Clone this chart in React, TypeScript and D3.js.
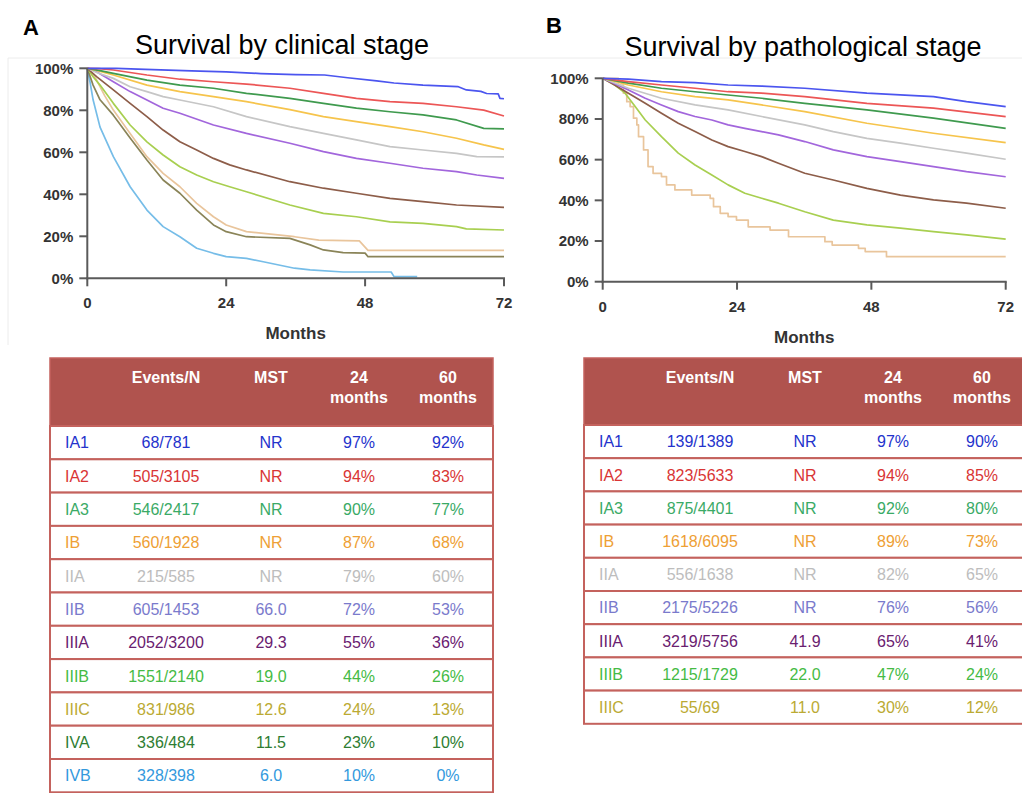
import React from "react";
import * as d3 from "d3";

type Pt = [number, number];

// ---------- tick labels ----------
const monthTicks = [0, 24, 48, 72];
const pctTicks = [0, 20, 40, 60, 80, 100];

// ---------- stage names & colours ----------
const stages = ["IA1", "IA2", "IA3", "IB", "IIA", "IIB", "IIIA", "IIIB", "IIIC", "IVA", "IVB"];
const curveColors = ["#4b55ef", "#ec5656", "#3f9a4e", "#f6c44c", "#c6c6c6", "#a266dc", "#8d5d49", "#a8cf50", "#e9c59c", "#8a8458", "#76bde8"];
const textColors = ["#2433cc", "#d93535", "#3aaa66", "#eea035", "#bdbdbd", "#7a7acc", "#6a2070", "#45bb45", "#bbaa33", "#2e7d32", "#3399dd"];

// ---------- Panel A: clinical stage survival (%) ----------
const clinIA1: Pt[] = [[0,100],[5,100],[10,99.5],[18,98.8],[24,98.3],[30,97.5],[36,97],[41,96.8],[45,95.5],[50,94],[53,93],[58,92],[64,91.3],[65.5,89.7],[68,89],[69,88],[71,87.8],[71.3,85.7],[72,85.5]];
const clinIA2: Pt[] = [[0,100],[2,99.8],[4.5,99.2],[10.3,96.8],[16,94.8],[21.8,93.6],[27.5,92.5],[35,90.5],[40.8,88.1],[46.5,85.7],[52.3,84.1],[58,83.3],[63.8,81.7],[68.5,80.1],[72,77.3]];
const clinIA3: Pt[] = [[0,100],[2,99],[4.5,97.6],[10.3,94.4],[16,92],[21.8,90.5],[27.5,88.1],[35,85.7],[40.8,83.3],[46.5,81],[52.3,79.3],[58,77.8],[63.8,75.4],[68.5,71.4],[72,71.2]];
const clinIB: Pt[] = [[0,100],[1.6,99],[4.5,96.8],[10.3,92],[16,88.9],[21.8,86.5],[27.5,84.1],[35,80.3],[40.8,77],[46.5,74.6],[52.3,72.2],[58,69.8],[63.8,66.7],[68.5,63.5],[72,61.4]];
const clinIIA: Pt[] = [[0,100],[1.6,98],[4.5,95.2],[7.4,91.2],[10.3,88.9],[13.1,86.5],[16,84.9],[21.8,81.7],[27.5,77],[35,72.2],[40.8,69],[46.5,65.9],[52.3,62.7],[58,61.1],[63.8,59.5],[67.3,57.9],[72,57.8]];
const clinIIB: Pt[] = [[0,100],[1.6,98.4],[4.5,93.6],[7.4,88.9],[10.3,84.9],[13.1,81],[16,78.6],[21.8,73],[27.5,69],[35,64.3],[40.8,60.3],[46.5,57.1],[52.3,54.8],[58,52.4],[63.8,50.8],[67.3,49.2],[72,47.6]];
const clinIIIA: Pt[] = [[0,100],[1.6,96],[4.5,89.7],[7.4,83.3],[10.3,77],[13.1,70.6],[16,65],[18.9,61.1],[21.8,57.1],[24.6,54],[27.5,51.6],[35,46],[40.8,42.9],[46.5,40.5],[52.3,38.1],[58,36.5],[63.8,34.9],[72,33.8]];
const clinIIIB: Pt[] = [[0,100],[1,96],[2.2,92],[4.5,83.3],[7.4,73],[10.3,65],[13.1,58.7],[16,53.1],[18.9,49.2],[21.8,46],[24.6,43.6],[27.5,41.2],[35,34.9],[40.8,30.9],[46.5,29.3],[52.3,26.9],[58,26.2],[63.8,24.6],[65.5,23.5],[72,23]];
const clinIIIC: Pt[] = [[0,100],[1.5,95],[3,87],[4.5,80.1],[7.4,69],[10.3,57.9],[13.1,50],[16,43.6],[18.9,35.7],[21.8,29.3],[24,25.4],[27.5,22.2],[35.8,19.8],[40,18.2],[47,17.8],[48.5,13.3],[72,13.3]];
const clinIVA: Pt[] = [[0,100],[1,92],[2.2,85],[4.5,77.7],[7.4,66.8],[10.3,56.3],[13.1,46.8],[16,40.5],[18.9,32.5],[21.8,25.4],[24,22.2],[27.5,19.8],[35,19],[38.5,15.9],[40.8,13.5],[44.2,12.2],[48,12],[48.5,10.3],[72,10.3]];
const clinIVB: Pt[] = [[0,100],[0.5,93],[1,85],[2.2,72],[4.5,57.9],[7.4,43.6],[10.3,32.5],[13.1,24.6],[16,19.8],[18.9,14.3],[21.8,11.9],[24,10.3],[27.5,9.5],[30.4,7.9],[35.8,4.8],[38.5,4],[44.2,3],[52.5,3],[53,0.8],[57,0.8]];

// ---------- Panel B: pathological stage survival (%) ----------
const pathIA1: Pt[] = [[0,100],[4.6,99.6],[10.5,98.4],[16.5,97.9],[22.4,96.7],[28.4,96.2],[36.1,95.1],[47.2,92.7],[59.1,91],[65,88.5],[72,86.1]];
const pathIA2: Pt[] = [[0,100],[4.6,98.4],[10.5,96.7],[16.5,95.1],[22.4,93.4],[28.4,92.7],[36.1,91],[47.2,87.7],[59.1,85.3],[72,81.2]];
const pathIA3: Pt[] = [[0,100],[4.6,97.6],[10.5,95.1],[16.5,93.4],[22.4,91.8],[28.4,90.2],[36.1,87.7],[47.2,84.5],[59.1,80.4],[72,75.4]];
const pathIB: Pt[] = [[0,100],[4.6,96.7],[10.5,93.4],[16.5,91],[22.4,89.4],[28.4,86.9],[36.1,83.6],[47.2,77.9],[59.1,73],[72,68.4]];
const pathIIA: Pt[] = [[0,100],[4.6,95.1],[10.5,90.2],[16.5,86.9],[22.4,84.5],[28.4,81.2],[36.1,77.1],[41.2,73.8],[47.2,70.5],[53.2,68.1],[59.1,65.6],[65,63.2],[72,60.2]];
const pathIIB: Pt[] = [[0,100],[4.6,94.3],[7.6,90.2],[10.5,86.9],[13.5,83.6],[16.5,81.2],[19.5,79.5],[22.4,77.1],[25.4,75.4],[28.4,73.8],[31.4,72.2],[36.1,68.9],[41.2,64.8],[47.2,61.5],[53.2,59],[59.1,56.6],[65,54.1],[72,51.6]];
const pathIIIA: Pt[] = [[0,100],[1.6,97.6],[4.6,92.7],[7.6,87.7],[10.5,82.8],[13.5,77.9],[16.5,73.8],[19.5,69.7],[22.4,66.4],[25.4,64],[28.4,61.5],[31.4,58.2],[36.1,53.3],[41.2,50],[47.2,45.9],[53.2,42.6],[59.1,40.2],[65,38.6],[72,36.1]];
const pathIIIB: Pt[] = [[0,100],[2,97],[4,92.7],[5.8,86.1],[7.6,79.5],[10.5,71.3],[13.5,63.2],[16.5,57.4],[19.5,52.5],[22.4,47.6],[25.4,43.5],[28.4,41],[31.4,38.6],[36.1,34.4],[41.2,30.3],[47.2,27.9],[53.2,26.3],[59.1,24.6],[65,23],[72,20.9]];
const pathIIIC: Pt[] = [[0,100],[2.8,96.7],[3.7,92.7],[4.3,88.5],[4.9,86.1],[5.5,80.4],[6.1,77.1],[6.4,71.3],[7.3,64.8],[8.1,56.6],[9,53.3],[10.5,51.7],[11.4,47.6],[12.9,45.1],[15.9,42.6],[19.2,41],[19.8,36.9],[21,33.6],[22.4,32],[23.9,30.3],[26,27],[29.9,25.4],[33.2,22.1],[39.7,19.7],[41,18],[45.7,16.4],[46.9,14.8],[50.7,12.3],[72,12.3]];

const clinCurves = [clinIA1, clinIA2, clinIA3, clinIB, clinIIA, clinIIB, clinIIIA, clinIIIB, clinIIIC, clinIVA, clinIVB];
const pathCurves = [pathIA1, pathIA2, pathIA3, pathIB, pathIIA, pathIIB, pathIIIA, pathIIIB, pathIIIC];
const pathStepped = [false, false, false, false, false, false, false, false, true];

// ---------- Tables ----------
const headerTop = ["", "Events/N", "MST", "24", "60"];
const headerBottom = ["", "", "", "months", "months"];

const clinEvents = ["68/781", "505/3105", "546/2417", "560/1928", "215/585", "605/1453", "2052/3200", "1551/2140", "831/986", "336/484", "328/398"];
const clinMST = ["NR", "NR", "NR", "NR", "NR", "66.0", "29.3", "19.0", "12.6", "11.5", "6.0"];
const clin24 = ["97%", "94%", "90%", "87%", "79%", "72%", "55%", "44%", "24%", "23%", "10%"];
const clin60 = ["92%", "83%", "77%", "68%", "60%", "53%", "36%", "26%", "13%", "10%", "0%"];

const pathEvents = ["139/1389", "823/5633", "875/4401", "1618/6095", "556/1638", "2175/5226", "3219/5756", "1215/1729", "55/69"];
const pathMST = ["NR", "NR", "NR", "NR", "NR", "NR", "41.9", "22.0", "11.0"];
const path24 = ["97%", "94%", "92%", "89%", "82%", "76%", "65%", "47%", "30%"];
const path60 = ["90%", "85%", "80%", "73%", "65%", "56%", "41%", "24%", "12%"];

const FONT = "'Liberation Sans', Arial, Helvetica, sans-serif";

type PanelProps = {
  left: number; right: number; top: number; bottom: number;
  curves: Pt[][]; stepped?: boolean[];
  title: string; titleX: number; titleY: number;
  letter: string; letterX: number; letterY: number;
};

function Panel(p: PanelProps) {
  const x = d3.scaleLinear().domain([0, 72]).range([p.left, p.right]);
  const y = d3.scaleLinear().domain([0, 100]).range([p.bottom, p.top]);
  const axisColor = "#5a5a5a";
  return (
    <g>
      <text x={p.letterX} y={p.letterY} fontFamily={FONT} fontWeight="bold" fontSize={22} fill="#000">{p.letter}</text>
      <text x={p.titleX} y={p.titleY} fontFamily={FONT} fontSize={27} fill="#000" textAnchor="middle">{p.title}</text>
      {p.curves.map((c, i) => {
        const gen = d3.line<Pt>().x(d => x(d[0])).y(d => y(d[1]))
          .curve(p.stepped && p.stepped[i] ? d3.curveStepAfter : d3.curveLinear);
        return <path key={i} d={gen(c) || ""} fill="none" stroke={curveColors[i]} strokeWidth={1.7} strokeLinejoin="round" />;
      }).reverse()}
      {/* y axis */}
      <line x1={p.left} x2={p.left} y1={p.top} y2={p.bottom + 1} stroke={axisColor} strokeWidth={2} />
      {pctTicks.map(t => (
        <g key={t}>
          <line x1={p.left - 8} x2={p.left} y1={y(t)} y2={y(t)} stroke={axisColor} strokeWidth={2} />
          <text x={p.left - 14} y={y(t)} dy="0.36em" textAnchor="end" fontFamily={FONT} fontWeight="bold" fontSize={15} fill="#333">{t}%</text>
        </g>
      ))}
      {/* x axis */}
      <line x1={p.left - 1} x2={p.right + 1} y1={p.bottom} y2={p.bottom} stroke={axisColor} strokeWidth={2} />
      {monthTicks.map(t => (
        <g key={t}>
          <line x1={x(t)} x2={x(t)} y1={p.bottom} y2={p.bottom + 8} stroke={axisColor} strokeWidth={2} />
          <text x={x(t)} y={p.bottom + 30} textAnchor="middle" fontFamily={FONT} fontWeight="bold" fontSize={15} fill="#333">{t}</text>
        </g>
      ))}
      <text x={(p.left + p.right) / 2} y={p.bottom + 61} textAnchor="middle" fontFamily={FONT} fontWeight="bold" fontSize={17} fill="#333">Months</text>
    </g>
  );
}

type TableProps = {
  x: number; y: number; width: number; headerH: number; rowH: number;
  events: string[]; mst: string[]; m24: string[]; m60: string[];
};

const colOffsets = [15, 116, 221, 309, 398];

function Table(t: TableProps) {
  const n = t.events.length;
  const rowY = d3.scaleLinear().domain([0, n]).range([t.y + t.headerH, t.y + t.headerH + n * t.rowH]);
  const border = "#c4625d";
  return (
    <g fontFamily={FONT} fontSize={16}>
      <rect x={t.x} y={t.y} width={t.width} height={t.headerH} fill="#b0534e" stroke={border} strokeWidth={1.5} />
      {headerTop.map((h, i) => i > 0 && (
        <g key={i}>
          <text x={t.x + colOffsets[i]} y={t.y + 19} dy="0.36em" textAnchor="middle" fill="#fff" fontWeight="bold">{h}</text>
          {headerBottom[i] && <text x={t.x + colOffsets[i]} y={t.y + 39} dy="0.36em" textAnchor="middle" fill="#fff" fontWeight="bold">{headerBottom[i]}</text>}
        </g>
      ))}
      {t.events.map((e, r) => {
        const cy = (rowY(r) + rowY(r + 1)) / 2;
        const vals = [stages[r], e, t.mst[r], t.m24[r], t.m60[r]];
        return (
          <g key={r}>
            <rect x={t.x} y={rowY(r)} width={t.width} height={t.rowH} fill="#fff" stroke={border} strokeWidth={2} />
            {vals.map((v, i) => (
              <text key={i} x={t.x + colOffsets[i]} y={cy} dy="0.36em" textAnchor={i === 0 ? "start" : "middle"} fill={textColors[r]}>{v}</text>
            ))}
          </g>
        );
      })}
    </g>
  );
}

export default function App() {
  return (
    <svg width={1022} height={793} style={{ position: "absolute", left: 0, top: 0, background: "#fff" }}>
      <rect x={0} y={0} width={1022} height={793} fill="#fff" />
      <line x1={8} x2={1022} y1={58} y2={58} stroke="#ececec" strokeWidth={1} />
      <line x1={8} x2={8} y1={58} y2={345} stroke="#ececec" strokeWidth={1} />
      <Panel left={87.3} right={504} top={68.3} bottom={278.3} curves={clinCurves}
        title="Survival by clinical stage" titleX={282} titleY={54} letter="A" letterX={23} letterY={35} />
      <Panel left={602.7} right={1005.7} top={78.3} bottom={281.7} curves={pathCurves} stepped={pathStepped}
        title="Survival by pathological stage" titleX={803} titleY={56} letter="B" letterX={546} letterY={33} />
      <Table x={50} y={358} width={443} headerH={68} rowH={33.3} events={clinEvents} mst={clinMST} m24={clin24} m60={clin60} />
      <Table x={584} y={358} width={445} headerH={67} rowH={33.2} events={pathEvents} mst={pathMST} m24={path24} m60={path60} />
    </svg>
  );
}
